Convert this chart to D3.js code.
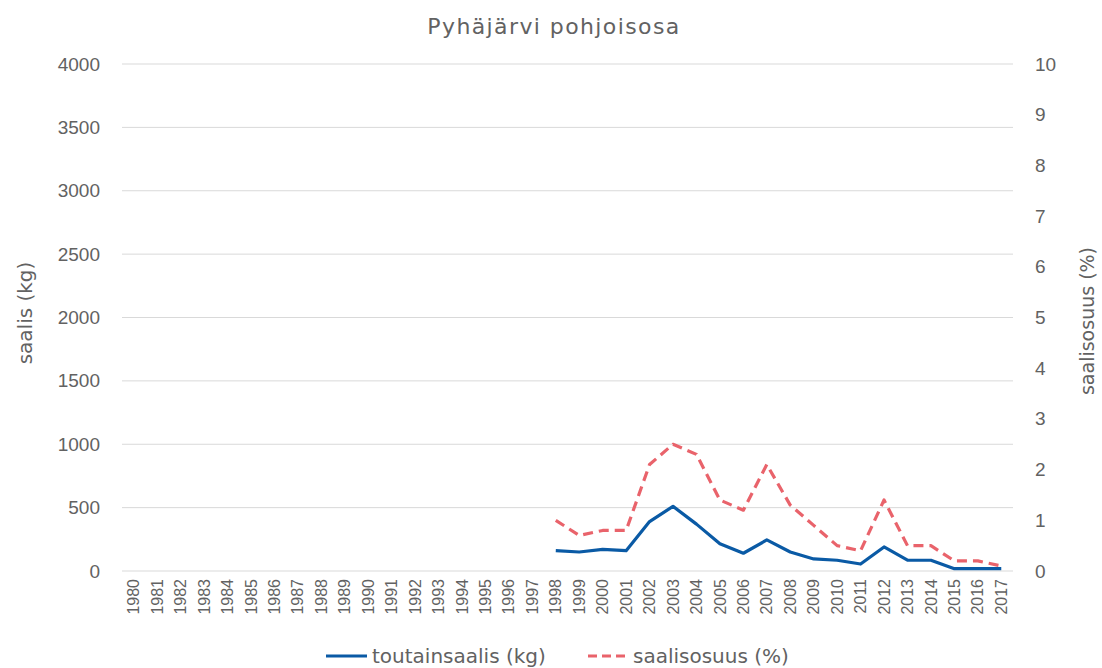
<!DOCTYPE html>
<html>
<head>
<meta charset="utf-8">
<script src="https://cdn.jsdelivr.net/npm/d3@7"></script>
<style>
  body { margin: 0; background: #fff; }
  svg { display: block; font-family: "DejaVu Sans", "Lato", sans-serif; }
</style>
</head>
<body>
<svg id="chart" width="1102" height="668"></svg>
<script>
// Years 1980–2017
const years = d3.range(1980, 2018).map(String);

// Catch (kg), recorded from 1998 onward
const catchYears = ["1998","1999","2000","2001","2002","2003","2004","2005","2006","2007",
                    "2008","2009","2010","2011","2012","2013","2014","2015","2016","2017"];
const catchKg = [160, 150, 170, 160, 390, 510, 370, 215, 140, 245,
                 150, 95, 85, 55, 190, 85, 85, 18, 18, 18];
// Share of total catch (%)
const sharePct = [1.0, 0.7, 0.8, 0.8, 2.1, 2.5, 2.3, 1.4, 1.2, 2.1,
                  1.3, 0.9, 0.5, 0.4, 1.4, 0.5, 0.5, 0.2, 0.2, 0.1];

const leftTicks = [0, 500, 1000, 1500, 2000, 2500, 3000, 3500, 4000];
const rightTicks = [0, 1, 2, 3, 4, 5, 6, 7, 8, 9, 10];

const textColor = "#626262";
const gridColor = "#d9d9d9";
const blue = "#0a5aa5";
const red = "#e9636b";

const svg = d3.select("#chart");
const m = { left: 122, right: 1013, top: 64, bottom: 571 };

const x = d3.scaleBand().domain(years).range([m.left, m.right]);
const yL = d3.scaleLinear().domain([0, 4000]).range([m.bottom, m.top]);
const yR = d3.scaleLinear().domain([0, 10]).range([m.bottom, m.top]);
const cx = d => x(d) + x.bandwidth() / 2;

// Title
svg.append("text")
  .attr("x", 554).attr("y", 34)
  .attr("text-anchor", "middle")
  .attr("font-size", 22)
  .attr("letter-spacing", 1.4)
  .attr("fill", textColor)
  .text("Pyhäjärvi pohjoisosa");

// Gridlines
svg.append("g").selectAll("line").data(leftTicks).join("line")
  .attr("x1", m.left).attr("x2", m.right)
  .attr("y1", d => yL(d)).attr("y2", d => yL(d))
  .attr("stroke", gridColor).attr("stroke-width", 1);

// Left axis
const gL = svg.append("g").attr("transform", `translate(${m.left - 22},0)`)
  .call(d3.axisLeft(yL).tickValues(leftTicks).tickSize(0).tickPadding(0).tickFormat(d3.format("d")));
gL.select(".domain").remove();
gL.selectAll("text").attr("font-size", 19).attr("fill", textColor).attr("font-family", null);

// Right axis
const gR = svg.append("g").attr("transform", `translate(${m.right + 22},0)`)
  .call(d3.axisRight(yR).tickValues(rightTicks).tickSize(0).tickPadding(0).tickFormat(d3.format("d")));
gR.select(".domain").remove();
gR.selectAll("text").attr("font-size", 19).attr("fill", textColor).attr("font-family", null);

// Bottom axis with rotated year labels
const gX = svg.append("g").attr("transform", `translate(0,${m.bottom})`)
  .call(d3.axisBottom(x).tickSize(0).tickPadding(0));
gX.select(".domain").remove();
gX.selectAll("text")
  .attr("font-size", 16).attr("fill", textColor).attr("font-family", null)
  .attr("transform", "rotate(-90)")
  .attr("text-anchor", "end")
  .attr("dy", "0.35em")
  .attr("x", -8).attr("y", 0);

// Axis titles
svg.append("text")
  .attr("transform", "translate(32,313) rotate(-90)")
  .attr("text-anchor", "middle")
  .attr("font-size", 20).attr("fill", textColor)
  .text("saalis (kg)");
svg.append("text")
  .attr("transform", "translate(1094,321) rotate(-90)")
  .attr("text-anchor", "middle")
  .attr("font-size", 19).attr("fill", textColor)
  .text("saalisosuus (%)");

// Lines
const catchData = catchYears.map((y, i) => ({ year: y, v: catchKg[i] }));
const shareData = catchYears.map((y, i) => ({ year: y, v: sharePct[i] }));

svg.append("path").datum(shareData)
  .attr("fill", "none").attr("stroke", red).attr("stroke-width", 3.2)
  .attr("stroke-dasharray", "10,6")
  .attr("stroke-linejoin", "round")
  .attr("d", d3.line().x(d => cx(d.year)).y(d => yR(d.v)));

svg.append("path").datum(catchData)
  .attr("fill", "none").attr("stroke", blue).attr("stroke-width", 3.2)
  .attr("stroke-linejoin", "round")
  .attr("d", d3.line().x(d => cx(d.year)).y(d => yL(d.v)));

// Legend
const lg = svg.append("g");
lg.append("line").attr("x1", 326).attr("x2", 367).attr("y1", 656).attr("y2", 656)
  .attr("stroke", blue).attr("stroke-width", 3.2);
lg.append("text").attr("x", 372).attr("y", 663)
  .attr("font-size", 20).attr("fill", textColor).text("toutainsaalis (kg)");
lg.append("line").attr("x1", 588).attr("x2", 627).attr("y1", 656).attr("y2", 656)
  .attr("stroke", red).attr("stroke-width", 3.2).attr("stroke-dasharray", "9,5");
lg.append("text").attr("x", 633).attr("y", 663)
  .attr("font-size", 20).attr("fill", textColor).text("saalisosuus (%)");
</script>
</body>
</html>
